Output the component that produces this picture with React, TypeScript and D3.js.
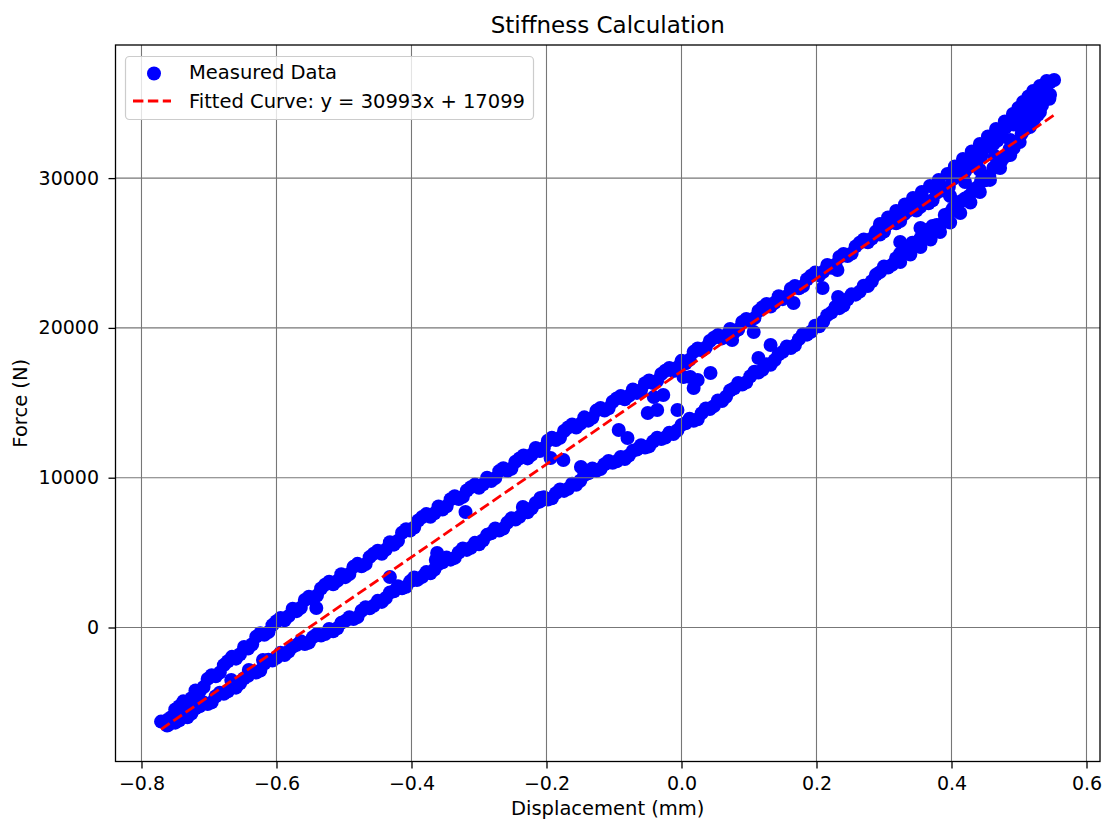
import React, { useEffect, useRef } from "react";
import * as d3 from "d3";

// displacement (mm), force (N) read off the loop
// upper (unloading) side, first pass
const upperBranch: [number, number][] = [
  [-0.771, -6280], [-0.756, -5990], [-0.744, -5260], [-0.732, -5050], [-0.72, -4200], [-0.708, -3980],
  [-0.696, -3180], [-0.684, -3010], [-0.672, -2250], [-0.66, -2080], [-0.648, -1300], [-0.636, -1120],
  [-0.624, -380], [-0.612, -310], [-0.6, 420], [-0.588, 480], [-0.576, 1260], [-0.564, 1320],
  [-0.552, 2050], [-0.54, 2130], [-0.528, 2860], [-0.516, 2880], [-0.504, 3560], [-0.492, 3570],
  [-0.48, 4250], [-0.468, 4230], [-0.456, 4930], [-0.444, 4920], [-0.432, 5690], [-0.42, 5790],
  [-0.408, 6560], [-0.396, 6680], [-0.384, 7380], [-0.372, 7390], [-0.36, 8080], [-0.348, 8090],
  [-0.336, 8760], [-0.324, 8720], [-0.312, 9370], [-0.3, 9330], [-0.288, 10000], [-0.276, 9970],
  [-0.264, 10630], [-0.252, 10600], [-0.24, 11290], [-0.228, 11290], [-0.216, 11980], [-0.204, 11980],
  [-0.192, 12670], [-0.18, 12660], [-0.168, 13350], [-0.156, 13350], [-0.144, 14030], [-0.132, 14000],
  [-0.12, 14660], [-0.108, 14630], [-0.096, 15290], [-0.084, 15240], [-0.072, 15890], [-0.06, 15840],
  [-0.048, 16490], [-0.036, 16470], [-0.024, 17140], [-0.012, 17120], [0.0, 17800], [0.012, 17870],
  [0.024, 18620], [0.036, 18690], [0.048, 19340], [0.06, 19300], [0.072, 19930], [0.084, 19890],
  [0.096, 20600], [0.108, 20650], [0.12, 21380], [0.132, 21430], [0.144, 22120], [0.156, 22120],
  [0.168, 22800], [0.18, 22790], [0.192, 23480], [0.204, 23500], [0.216, 24200], [0.228, 24220],
  [0.24, 24930], [0.252, 24970], [0.264, 25680], [0.276, 25720], [0.288, 26430], [0.3, 26440],
  [0.312, 27130], [0.324, 27140], [0.336, 27830], [0.348, 27840], [0.36, 28520], [0.372, 28520],
  [0.384, 29220], [0.396, 29400], [0.408, 30250], [0.42, 30430], [0.432, 31290], [0.444, 31460],
  [0.456, 32330], [0.468, 32510], [0.48, 33370], [0.492, 33570], [0.504, 34570], [0.516, 34840],
  [0.528, 35710], [0.54, 35930], [0.552, 36550],
];

// upper side, second pass
const upperBranch2: [number, number][] = [
  [-0.762, -6180], [-0.75, -5470], [-0.738, -4930], [-0.726, -4720], [-0.714, -4280], [-0.702, -3430],
  [-0.69, -3250], [-0.678, -2510], [-0.666, -1960], [-0.654, -1790], [-0.642, -1410], [-0.63, -610],
  [-0.618, -490], [-0.606, 160], [-0.594, 640], [-0.582, 760], [-0.57, 1090], [-0.558, 1840],
  [-0.546, 1940], [-0.534, 2600], [-0.522, 3060], [-0.51, 3110], [-0.498, 3360], [-0.486, 4050],
  [-0.474, 4090], [-0.462, 4700], [-0.45, 5120], [-0.438, 5200], [-0.426, 5530], [-0.414, 6330],
  [-0.402, 6470], [-0.39, 7140], [-0.378, 7570], [-0.366, 7620], [-0.354, 7880], [-0.342, 8560],
  [-0.33, 8580], [-0.318, 9150], [-0.306, 9540], [-0.294, 9560], [-0.282, 9780], [-0.27, 10440],
  [-0.258, 10460], [-0.246, 11060], [-0.234, 11480], [-0.222, 11530], [-0.21, 11780], [-0.198, 12470],
  [-0.186, 12510], [-0.174, 13120], [-0.162, 13550], [-0.15, 13590], [-0.138, 13810], [-0.126, 14480],
  [-0.114, 14490], [-0.102, 15070], [-0.09, 15460], [-0.078, 15460], [-0.066, 15660], [-0.054, 16310],
  [-0.042, 16320], [-0.03, 16920], [-0.018, 17330], [-0.006, 17360], [0.006, 17640], [0.018, 18400],
  [0.03, 18500], [0.042, 19130], [0.054, 19520], [0.066, 19510], [0.078, 19710], [0.09, 20390],
  [0.102, 20470], [0.114, 21130], [0.126, 21600], [0.138, 21680], [0.15, 21920], [0.162, 22610],
  [0.174, 22640], [0.186, 23250], [0.198, 23690], [0.21, 23750], [0.222, 24010], [0.234, 24730],
  [0.246, 24800], [0.258, 25440], [0.27, 25900], [0.282, 25970], [0.294, 26230], [0.306, 26940],
  [0.318, 26990], [0.33, 27600], [0.342, 28030], [0.354, 28080], [0.366, 28320], [0.378, 29020],
  [0.39, 29160], [0.402, 29940], [0.414, 30540], [0.426, 30760], [0.438, 31170], [0.45, 32040],
  [0.462, 32270], [0.474, 33060], [0.486, 33670], [0.498, 33970], [0.51, 34500], [0.522, 35430],
  [0.534, 35670], [0.546, 36390],
];

// lower (loading) side, first pass
const lowerBranch: [number, number][] = [
  [-0.762, -6550], [-0.75, -6350], [-0.738, -5850], [-0.726, -5740], [-0.714, -5260], [-0.702, -5110],
  [-0.69, -4590], [-0.678, -4420], [-0.666, -3900], [-0.654, -3730], [-0.642, -3220], [-0.63, -3010],
  [-0.618, -2410], [-0.606, -2200], [-0.594, -1690], [-0.582, -1600], [-0.57, -1160], [-0.558, -1100],
  [-0.546, -640], [-0.534, -540], [-0.522, -100], [-0.51, -50], [-0.498, 440], [-0.486, 560],
  [-0.474, 1120], [-0.462, 1280], [-0.45, 1780], [-0.438, 1970], [-0.426, 2420], [-0.414, 2620],
  [-0.402, 3080], [-0.39, 3240], [-0.378, 3700], [-0.366, 3870], [-0.354, 4350], [-0.342, 4530],
  [-0.33, 5010], [-0.318, 5180], [-0.306, 5650], [-0.294, 5820], [-0.282, 6290], [-0.27, 6480],
  [-0.258, 7000], [-0.246, 7210], [-0.234, 7750], [-0.222, 7950], [-0.21, 8400], [-0.198, 8540],
  [-0.186, 8970], [-0.174, 9120], [-0.162, 9600], [-0.15, 9800], [-0.138, 10290], [-0.126, 10460],
  [-0.114, 10900], [-0.102, 11000], [-0.09, 11380], [-0.078, 11480], [-0.066, 11880], [-0.054, 12010],
  [-0.042, 12420], [-0.03, 12580], [-0.018, 13000], [-0.006, 13170], [0.006, 13630], [0.018, 13800],
  [0.03, 14310], [0.042, 14590], [0.054, 15150], [0.066, 15400], [0.078, 15970], [0.09, 16220],
  [0.102, 16770], [0.114, 17020], [0.126, 17580], [0.138, 17850], [0.15, 18400], [0.162, 18660],
  [0.174, 19250], [0.186, 19550], [0.198, 20140], [0.21, 20430], [0.222, 21020], [0.234, 21320],
  [0.246, 21910], [0.258, 22220], [0.27, 22810], [0.282, 23110], [0.294, 23720], [0.306, 24030],
  [0.318, 24650], [0.33, 24990], [0.342, 25690], [0.354, 25980], [0.366, 26570], [0.378, 26870],
  [0.39, 27540], [0.402, 27970], [0.414, 28450], [0.426, 28800], [0.438, 29380], [0.45, 29860],
  [0.462, 30670], [0.474, 31150], [0.486, 31950], [0.498, 32420], [0.51, 33290], [0.522, 33900],
  [0.534, 34850], [0.546, 35560],
];

// lower side, second pass
const lowerBranch2: [number, number][] = [
  [-0.756, -6270], [-0.744, -6200], [-0.732, -5990], [-0.72, -5390], [-0.708, -5000], [-0.696, -5000],
  [-0.684, -4350], [-0.672, -4265], [-0.66, -4015], [-0.648, -3385], [-0.636, -2935], [-0.624, -2870],
  [-0.612, -2160], [-0.6, -2023], [-0.588, -1840], [-0.576, -1280], [-0.564, -920], [-0.552, -1010],
  [-0.54, -440], [-0.528, -440], [-0.516, -255], [-0.504, 310], [-0.492, 680], [-0.48, 690],
  [-0.468, 1360], [-0.456, 1455], [-0.444, 1710], [-0.432, 2335], [-0.42, 2755], [-0.408, 2720],
  [-0.396, 3335], [-0.384, 3380], [-0.372, 3615], [-0.36, 4240], [-0.348, 4665], [-0.336, 4645],
  [-0.324, 5270], [-0.312, 5320], [-0.3, 5560], [-0.288, 6185], [-0.276, 6605], [-0.264, 6610],
  [-0.252, 7285], [-0.24, 7390], [-0.228, 7690], [-0.216, 8310], [-0.204, 8695], [-0.192, 8630],
  [-0.18, 9210], [-0.168, 9260], [-0.156, 9525], [-0.144, 10170], [-0.132, 10620], [-0.12, 10580],
  [-0.108, 11120], [-0.096, 11090], [-0.084, 11250], [-0.072, 11795], [-0.06, 12170], [-0.048, 12090],
  [-0.036, 12665], [-0.024, 12680], [-0.012, 12910], [0.0, 13525], [0.012, 13940], [0.024, 13903],
  [0.036, 14625], [0.048, 14775], [0.06, 15120], [0.072, 15820], [0.084, 16320], [0.096, 16370],
  [0.108, 17070], [0.12, 17210], [0.132, 17540], [0.144, 18245], [0.156, 18755], [0.168, 18835],
  [0.18, 19575], [0.192, 19745], [0.204, 20110], [0.216, 20850], [0.228, 21395], [0.24, 21490],
  [0.252, 22240], [0.264, 22420], [0.276, 22790], [0.288, 23540], [0.3, 24100], [0.312, 24210],
  [0.324, 24970], [0.336, 25155], [0.348, 25517], [0.36, 26260], [0.372, 26800], [0.384, 26890],
  [0.396, 27630], [0.408, 28090], [0.42, 28640], [0.432, 29230], [0.444, 29850], [0.456, 30140],
  [0.468, 31080], [0.48, 31450], [0.492, 32000], [0.504, 32970], [0.516, 33820], [0.528, 34230],
  [0.54, 35350],
];

// extra cycles that thicken the two ends of the loop
const tipCycle: [number, number][] = [
  [-0.76, -6500], [-0.748, -5700], [-0.717, -4640], [-0.667, -3505], [-0.641, -2837], [-0.62, -2170],
];

const topCycle: [number, number][] = [
  [0.294, 26938], [0.318, 27806], [0.343, 28674], [0.368, 29475], [0.394, 30276], [0.417, 31277],
  [0.442, 32279], [0.466, 33280], [0.491, 34282], [0.506, 35083], [0.521, 35817], [0.541, 36484],
  [0.306, 27370], [0.331, 28240], [0.356, 29075], [0.381, 29875], [0.405, 30780], [0.43, 31780],
  [0.454, 32780], [0.479, 33780], [0.499, 34680], [0.514, 35450], [0.531, 36150],
  [0.398, 28807], [0.42, 29742], [0.442, 30543], [0.464, 31478], [0.487, 32546], [0.509, 33747],
  [0.531, 35016], [0.324, 24400], [0.354, 25402], [0.383, 26404], [0.413, 27672], [0.442, 29075],
  [0.472, 30677], [0.501, 32413], [0.531, 34415], [0.339, 24900], [0.369, 25900], [0.398, 27040],
  [0.428, 28370], [0.457, 29880], [0.487, 31540], [0.516, 33410], [0.545, 35300],
];

const strayPoints: [number, number][] = [
  [-0.541, 1302], [-0.432, 3371], [-0.392, 3171], [-0.362, 4974], [-0.364, 4506], [-0.32, 7711],
  [-0.235, 8045], [-0.209, 8646], [-0.194, 11316], [-0.175, 11182], [-0.149, 10715], [-0.093, 13185],
  [-0.08, 12651], [-0.05, 14320], [-0.041, 15388], [-0.027, 15521], [-0.036, 14521], [-0.006, 14521],
  [0.003, 16724], [0.013, 16724], [0.018, 15989], [0.024, 16523], [0.043, 16991], [0.075, 19194],
  [0.107, 19728], [0.114, 17992], [0.132, 18860], [0.166, 21664], [0.209, 22665], [0.232, 22064],
  [0.231, 23867], [0.324, 25736], [0.354, 26671],
];

const fitSlope = 30993;
const fitIntercept = 17099;

const xTicks = [-0.8, -0.6, -0.4, -0.2, 0, 0.2, 0.4, 0.6];
const yTicks = [0, 10000, 20000, 30000];

const W = 1103;
const H = 820;
const margin = { top: 45, right: 3, bottom: 58.5, left: 115.5 };
const FONT = "DejaVu Sans, sans-serif";
const DOT_R = 7;

export default function App() {
  const ref = useRef<SVGSVGElement>(null);

  useEffect(() => {
    const svg = d3.select(ref.current);
    svg.selectAll("*").remove();

    const points = [
      ...upperBranch,
      ...upperBranch2,
      ...lowerBranch,
      ...lowerBranch2,
      ...tipCycle,
      ...topCycle,
      ...strayPoints,
    ];

    const x = d3.scaleLinear().domain([-0.8385, 0.62]).range([margin.left, W - margin.right]);
    const y = d3.scaleLinear().domain([-8945, 38885]).range([H - margin.bottom, margin.top]);

    // scatter
    svg
      .append("g")
      .selectAll("circle")
      .data(points)
      .enter()
      .append("circle")
      .attr("cx", (d) => x(d[0]))
      .attr("cy", (d) => y(d[1]))
      .attr("r", DOT_R)
      .attr("fill", "#0000ff");

    // grid sits above the scatter like matplotlib does
    const grid = svg.append("g").attr("stroke", "#777").attr("stroke-width", 1.1);
    grid
      .selectAll("line.v")
      .data(xTicks)
      .enter()
      .append("line")
      .attr("x1", (d) => x(d))
      .attr("x2", (d) => x(d))
      .attr("y1", margin.top)
      .attr("y2", H - margin.bottom);
    grid
      .selectAll("line.h")
      .data(yTicks)
      .enter()
      .append("line")
      .attr("x1", margin.left)
      .attr("x2", W - margin.right)
      .attr("y1", (d) => y(d))
      .attr("y2", (d) => y(d));

    // fitted line over the data range
    const xr = d3.extent(points, (d) => d[0]) as [number, number];
    const line = d3
      .line<number>()
      .x((d) => x(d))
      .y((d) => y(fitSlope * d + fitIntercept));
    svg
      .append("path")
      .attr("d", line(xr))
      .attr("fill", "none")
      .attr("stroke", "#ff0000")
      .attr("stroke-width", 2.8)
      .attr("stroke-dasharray", "10.4,4.5");

    // frame
    svg
      .append("rect")
      .attr("x", margin.left)
      .attr("y", margin.top)
      .attr("width", W - margin.left - margin.right)
      .attr("height", H - margin.top - margin.bottom)
      .attr("fill", "none")
      .attr("stroke", "#000")
      .attr("stroke-width", 1.3);

    // axes
    const xAxis = d3.axisBottom(x).tickValues(xTicks).tickSize(7).tickPadding(8).tickFormat(d3.format(".1f"));
    const yAxis = d3.axisLeft(y).tickValues(yTicks).tickSize(7).tickPadding(9.5).tickFormat(d3.format("d"));
    const gx = svg.append("g").attr("transform", `translate(0,${H - margin.bottom})`).call(xAxis);
    const gy = svg.append("g").attr("transform", `translate(${margin.left},0)`).call(yAxis);
    [gx, gy].forEach((g) => {
      g.select(".domain").remove();
      g.selectAll("line").attr("stroke", "#000").attr("stroke-width", 1.3);
      g.selectAll("text").attr("fill", "#000").style("font-family", FONT).style("font-size", "19px");
    });

    // labels
    svg
      .append("text")
      .attr("x", (margin.left + W - margin.right) / 2)
      .attr("y", 33)
      .attr("text-anchor", "middle")
      .style("font-family", FONT)
      .style("font-size", "23px")
      .text("Stiffness Calculation");
    svg
      .append("text")
      .attr("x", (margin.left + W - margin.right) / 2)
      .attr("y", 815)
      .attr("text-anchor", "middle")
      .style("font-family", FONT)
      .style("font-size", "19.5px")
      .text("Displacement (mm)");
    svg
      .append("text")
      .attr("transform", `translate(27,${(margin.top + H - margin.bottom) / 2}) rotate(-90)`)
      .attr("text-anchor", "middle")
      .style("font-family", FONT)
      .style("font-size", "19.5px")
      .text("Force (N)");

    // legend
    const lg = svg.append("g");
    lg.append("rect")
      .attr("x", 125.5)
      .attr("y", 56.5)
      .attr("width", 408)
      .attr("height", 63)
      .attr("rx", 4)
      .attr("fill", "#fff")
      .attr("fill-opacity", 0.8)
      .attr("stroke", "#cccccc")
      .attr("stroke-width", 1.2);
    lg.append("circle").attr("cx", 154).attr("cy", 73.5).attr("r", DOT_R).attr("fill", "#0000ff");
    lg.append("line")
      .attr("x1", 133)
      .attr("x2", 171)
      .attr("y1", 101)
      .attr("y2", 101)
      .attr("stroke", "#ff0000")
      .attr("stroke-width", 2.8)
      .attr("stroke-dasharray", "10.4,4.5");
    lg.append("text")
      .attr("x", 189)
      .attr("y", 78.5)
      .style("font-family", FONT)
      .style("font-size", "19.5px")
      .text("Measured Data");
    lg.append("text")
      .attr("x", 189)
      .attr("y", 107.5)
      .style("font-family", FONT)
      .style("font-size", "19.5px")
      .text(`Fitted Curve: y = ${fitSlope}x + ${fitIntercept}`);
  }, []);

  return (
    <svg
      ref={ref}
      width={W}
      height={H}
      style={{ position: "absolute", left: 0, top: 0, background: "#fff" }}
    />
  );
}
